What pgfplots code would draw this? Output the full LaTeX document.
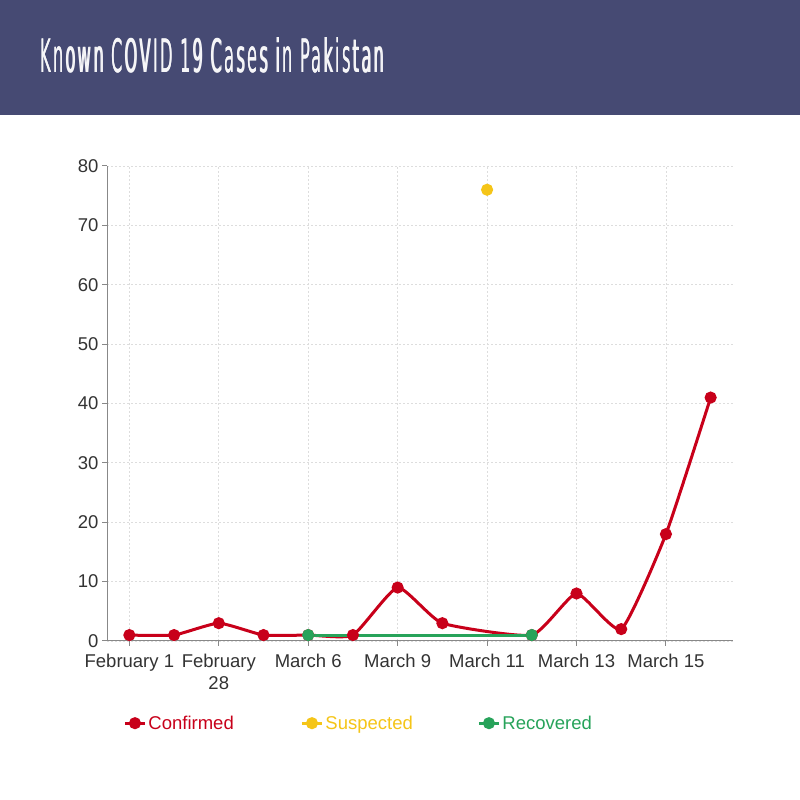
\documentclass[border=0pt]{standalone}
\usepackage{pgfplots}
\pgfplotsset{compat=1.18}
\usepackage{fontspec}
\setmainfont{Liberation Sans}
\newfontfamily\titlefont[LetterSpace=14]{DejaVu Sans}
\definecolor{hdr}{HTML}{464A73}
\definecolor{cred}{HTML}{C8001A}
\definecolor{cyel}{HTML}{F5C518}
\definecolor{cgrn}{HTML}{27A35A}
\definecolor{gridc}{HTML}{DDDDDD}
\definecolor{axc}{HTML}{888888}
\definecolor{txt}{HTML}{333333}
\newcommand{\ttl}{\resizebox{344pt}{35pt}{\titlefont Known COVID 19 Cases in Pakistan}}
\begin{document}
\begin{tikzpicture}[x=1pt,y=1pt]
\path[use as bounding box] (0,0) rectangle (800,800);
\fill[white] (0,0) rectangle (800,800);
\fill[hdr] (0,685) rectangle (800,800);
\foreach \dx in {0,0.5}{
\node[anchor=base west, inner sep=0pt, text=white!95!hdr] at (40+\dx,727) {\ttl};}
\begin{axis}[
  at={(107pt,159pt)}, anchor=south west,
  scale only axis, width=626pt, height=475pt,
  xmin=-0.5, xmax=13.5, ymin=0, ymax=80,
  xtick={0,2,...,12},
  xticklabels={February 1,{February\\28},March 6,March 9,March 11,March 13,March 15},
  xticklabel style={align=center, yshift=-5pt, font=\fontsize{18.5}{22}\selectfont},
  yticklabel style={font=\fontsize{18.5}{22}\selectfont},
  ytick={0,10,...,80},
  grid=major,
  major grid style={gridc, line width=0.8pt, dash pattern=on 2pt off 2pt},
  axis x line=bottom, axis y line=left,
  axis line style={axc, -, line width=1pt},
  tick style={axc, line width=1pt},
  tick align=outside, major tick length=5pt,
  ticklabel style={text=txt},
  /pgf/number format/assume math mode=true,
  legend style={at={(axis description cs:0.026,-0.173)}, anchor=west, draw=none, fill=none, inner sep=0pt, font=\fontsize{18.5}{21}\selectfont},
  legend columns=3,
  legend image code/.code={\draw[mark repeat=2,mark phase=2,#1] plot coordinates {(0pt,0pt) (10pt,0pt) (20pt,0pt)};},
]
\addplot[cred, line width=3pt, smooth, tension=0.3, mark=*, mark size=4.5pt, mark options={solid}] coordinates {
(0,1) (1,1) (2,3) (3,1) (4,1) (5,1) (6,9) (7,3) (9,1) (10,8) (11,2) (12,18) (13,41)};
\addlegendentry{\textcolor{cred}{\makebox[150pt][l]{Confirmed}}}
\addplot[cyel, line width=3pt, mark=*, mark size=4.5pt] coordinates {(8,76)};
\addlegendentry{\textcolor{cyel}{\makebox[150pt][l]{Suspected}}}
\addplot[cgrn, line width=3pt, mark=*, mark size=4.5pt] coordinates {(4,1) (9,1)};
\addlegendentry{\textcolor{cgrn}{\makebox[150pt][l]{Recovered}}}
\end{axis}
\end{tikzpicture}
\end{document}
